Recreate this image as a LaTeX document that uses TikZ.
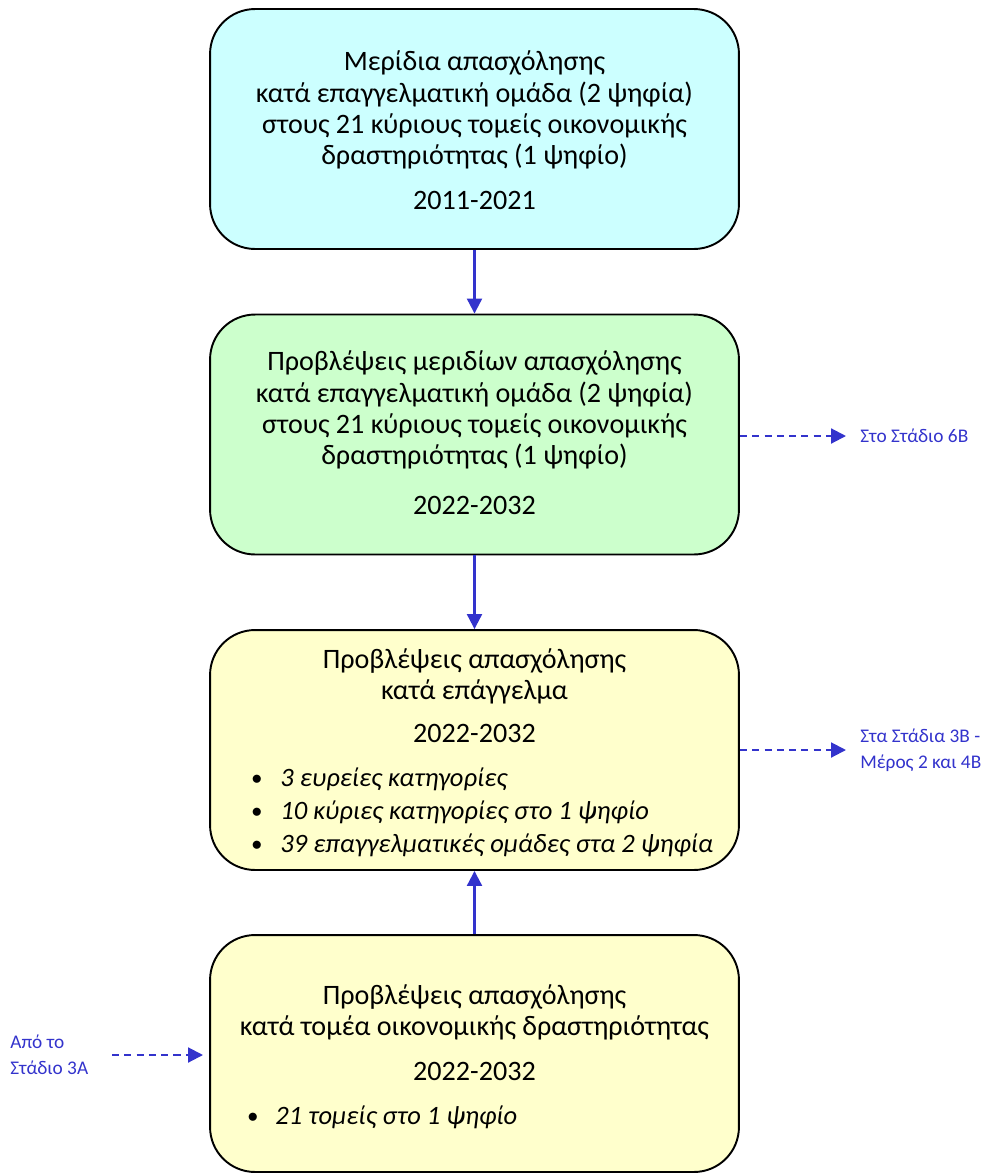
\documentclass[tikz,border=0pt]{standalone}
\usepackage{fontspec}
\setmainfont{Carlito}
\usepackage{tikz}
\usetikzlibrary{positioning,arrows.meta}
\definecolor{flowblue}{HTML}{3333CC}
\definecolor{boxcyan}{HTML}{CCFFFF}
\definecolor{boxgreen}{HTML}{CCFFCC}
\definecolor{boxyellow}{HTML}{FFFFCC}

\begin{document}
\begin{tikzpicture}[x=0.02cm, y=-0.02cm,
      every node/.style={font=\fontsize{16}{17.7}\selectfont, inner sep=0pt},
      box/.style={draw=black, line width=1.1pt, rounded corners=0.9cm, minimum width=10.58cm, minimum height=4.8cm},
      txt/.style={align=center},
      item/.style={anchor=west, font=\fontsize{15.1}{17.7}\selectfont\itshape},
      dot/.style={anchor=center, font=\fontsize{13}{15}\selectfont},
      side/.style={text=flowblue, align=left, anchor=west, font=\fontsize{11}{15}\selectfont},
      flow/.style={draw=flowblue, line width=1.2pt, -{Triangle[length=8.5pt, width=8.5pt]}},
      link/.style={flow, dashed, dash pattern=on 4pt off 3pt}]
    \useasboundingbox (0,0) rectangle (995,1174);
    % boxes
    \node[box, fill=boxcyan] (share) at (474.5,129) {};
    \node[box, fill=boxgreen] (sharef) at (474.5,434.5) {};
    \node[box, fill=boxyellow] (occ) at (474.5,750) {};
    \node[box, fill=boxyellow, minimum height=4.74cm] (sect) at (474.5,1053.5) {};
    % box texts
    \node[txt] (shareT) at (474.5,110) {Μερίδια απασχόλησης\\κατά επαγγελματική ομάδα (2 ψηφία)\\στους 21 κύριους τομείς οικονομικής\\δραστηριότητας (1 ψηφίο)};
    \node (shareY) at (474.5,200) {2011-2021};
    \node[txt] (sharefT) at (474.5,410) {Προβλέψεις μεριδίων απασχόλησης\\κατά επαγγελματική ομάδα (2 ψηφία)\\στους 21 κύριους τομείς οικονομικής\\δραστηριότητας (1 ψηφίο)};
    \node (sharefY) at (474.5,505) {2022-2032};
    \node[txt] (occT) at (474.5,676) {Προβλέψεις απασχόλησης\\κατά επάγγελμα};
    \node (occY) at (474.5,733) {2022-2032};
    \node[dot] (b1) at (257,780) {$\bullet$};
    \node[item] (i1) at (280,779) {3 ευρείες κατηγορίες};
    \node[dot] (b2) at (257,813) {$\bullet$};
    \node[item] (i2) at (280,812) {10 κύριες κατηγορίες στο 1 ψηφίο};
    \node[dot] (b3) at (257,846) {$\bullet$};
    \node[item] (i3) at (280,845) {39 επαγγελματικές ομάδες στα 2 ψηφία};
    \node[txt] (sectT) at (474.5,1012) {Προβλέψεις απασχόλησης\\κατά τομέα οικονομικής δραστηριότητας};
    \node (sectY) at (474.5,1071) {2022-2032};
    \node[dot] (b4) at (253,1118) {$\bullet$};
    \node[item] (i4) at (275,1117) {21 τομείς στο 1 ψηφίο};
    % side labels
    \node[side] (to6b) at (860,436) {Στο Στάδιο 6Β};
    \node[side] (to3b) at (860,750) {Στα Στάδια 3Β -\\Μέρος 2 και 4Β};
    \node[side] (from3a) at (10,1055) {Από το\\Στάδιο 3Α};
    \coordinate (out6b) at (846,436);
    \coordinate (out3b) at (846,750);
    \coordinate (in3a) at (112,1055);
    \coordinate (end3a) at (203,1055);
    % connectors
    \draw[flow] (share) -- (sharef);
    \draw[flow] (sharef) -- (occ);
    \draw[flow] (sect) -- (occ);
    \draw[link] (sharef.east |- out6b) -- (out6b);
    \draw[link] (occ.east |- out3b) -- (out3b);
    \draw[link] (in3a) -- (end3a);
  \end{tikzpicture}
\end{document}
